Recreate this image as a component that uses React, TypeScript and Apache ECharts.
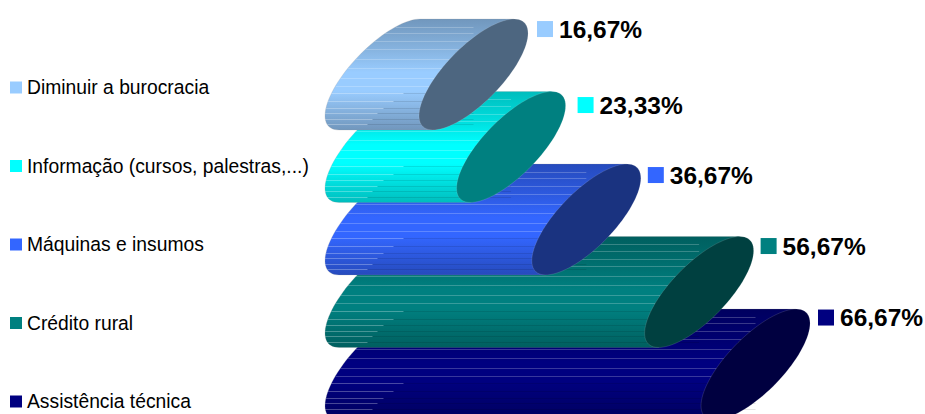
import React, { useEffect, useRef } from "react";
import * as echarts from "echarts";

// Bottom to top, so the upper cylinders are painted over the lower ones.
const categories = [
  "Assistência técnica",
  "Crédito rural",
  "Máquinas e insumos",
  "Informação (cursos, palestras,...)",
  "Diminuir a burocracia",
];
const percentages = [66.67, 56.67, 36.67, 23.33, 16.67];
const colors = ["#000080", "#008080", "#3366ff", "#00ffff", "#99ccff"];

// Per-cylinder placement of the value tag, relative to the end cap.
const tagGapX = [8, 7, 7, 12, 9];
const tagDropY = [8.5, 9.5, 11, 13.5, 10];

// Stripe positions as fractions of the cylinder height.
const fullStripes = [0.07, 0.13, 0.2, 0.27, 0.36, 0.44, 0.53, 0.6];
const tailStripes: [number, number][] = [
  [0.67, 24],
  [0.74, 14],
  [0.8, 4],
  [0.85, -2],
  [0.9, -7],
  [0.95, -12],
];

const TILT = (48 * Math.PI) / 180;
const HALF_WIDTH = 54.5;
const HEIGHT_RATIO = 0.765;

const shade = (hex: string, k: number) => {
  const n = parseInt(hex.slice(1), 16);
  const c = [(n >> 16) & 255, (n >> 8) & 255, n & 255].map((v) => Math.round(v * k));
  return `rgb(${c[0]},${c[1]},${c[2]})`;
};

// Leftmost point of the tilted end ellipse at a given height.
const leftEdgeAt = (cx: number, cy: number, b: number, y: number) => {
  const v = Math.max(-1, Math.min(1, (cy - y) / b));
  const s1 = Math.asin(v);
  const s2 = Math.PI - s1;
  return Math.min(
    cx + HALF_WIDTH * Math.cos(s1 - TILT),
    cx + HALF_WIDTH * Math.cos(s2 - TILT)
  );
};

const ellipsePoint = (cx: number, cy: number, b: number, t: number) => [
  cx + HALF_WIDTH * Math.cos(t),
  cy - b * Math.sin(t + TILT),
];

const makeRenderItem = (index: number) => (_params: any, api: any) => {
  const [xEnd, cy] = api.coord([api.value(0), api.value(1)]);
  const [xStart] = api.coord([0, api.value(1)]);
  const b = api.size([0, 1])[1] * HEIGHT_RATIO;
  const color = colors[index];
  const top = cy - b;
  const height = 2 * b;

  const outline: number[][] = [];
  const steps = 48;
  for (let i = 0; i <= steps; i++) {
    const t = Math.PI / 2 - TILT + (Math.PI * i) / steps;
    outline.push(ellipsePoint(xStart, cy, b, t));
  }
  const body = [
    ellipsePoint(xEnd, cy, b, Math.PI / 2 - TILT),
    ...outline,
    ellipsePoint(xEnd, cy, b, (3 * Math.PI) / 2 - TILT),
  ];

  const cap: number[][] = [];
  for (let i = 0; i < 96; i++) {
    cap.push(ellipsePoint(xEnd, cy, b, (2 * Math.PI * i) / 96));
  }

  const segment = (y: number, x1: number, x2: number, stroke: string) => ({
    type: "line",
    shape: { x1, y1: Math.round(y) + 0.5, x2, y2: Math.round(y) + 0.5 },
    style: { stroke, lineWidth: 1 },
  });

  const stripes: any[] = [];
  fullStripes.forEach((f) => {
    const y = top + f * height;
    stripes.push(
      segment(y, leftEdgeAt(xStart, cy, b, y), xEnd, "rgba(255,255,255,0.22)")
    );
  });
  tailStripes.forEach(([f, reach]) => {
    const y = top + f * height;
    const from = leftEdgeAt(xStart, cy, b, y);
    const mid = Math.max(from, xStart + reach);
    stripes.push(segment(y, from, mid, "rgba(255,255,255,0.28)"));
    stripes.push(segment(y, mid, xEnd, "rgba(0,0,0,0.1)"));
  });

  const right = xEnd + HALF_WIDTH;
  const tagX = right + tagGapX[index];
  const tagY = top + tagDropY[index];

  return {
    type: "group",
    children: [
      {
        type: "polygon",
        shape: { points: body },
        style: {
          fill: new echarts.graphic.LinearGradient(0, 0, 0, 1, [
            { offset: 0, color: shade(color, 0.74) },
            { offset: 0.28, color: shade(color, 0.88) },
            { offset: 0.48, color: color },
            { offset: 0.65, color: color },
            { offset: 1, color: shade(color, 0.74) },
          ]),
          stroke: "rgba(150,150,150,0.35)",
          lineWidth: 0.6,
        },
      },
      ...stripes,
      {
        type: "polygon",
        shape: { points: cap },
        style: {
          fill: shade(color, 0.5),
          stroke: "rgba(255,255,255,0.18)",
          lineWidth: 0.7,
        },
      },
      {
        type: "rect",
        shape: { x: tagX, y: tagY - 8, width: 16, height: 16 },
        style: { fill: color },
      },
      {
        type: "text",
        style: {
          x: tagX + 22,
          y: tagY,
          text: api.value(0).toFixed(2).replace(".", ",") + "%",
          fill: "#000",
          font: 'bold 24.5px "Liberation Sans", Arial, sans-serif',
          textAlign: "left",
          textVerticalAlign: "middle",
        },
      },
    ],
  };
};

export default function App() {
  const ref = useRef<HTMLDivElement>(null);

  useEffect(() => {
    const chart = echarts.init(ref.current!, undefined, { renderer: "svg" });
    chart.setOption({
      animation: false,
      backgroundColor: "#ffffff",
      grid: { left: 379.5, top: 38.25, width: 394.8, height: 362.5 },
      xAxis: { type: "value", min: 0, max: 70, show: false },
      yAxis: { type: "category", data: categories, show: false },
      legend: {
        orient: "vertical",
        left: 5,
        top: 73,
        height: 400,
        itemWidth: 12,
        itemHeight: 12,
        itemGap: 59.5,
        icon: "rect",
        data: [...categories].reverse(),
        selectedMode: false,
        textStyle: {
          color: "#000",
          fontSize: 19.3,
          fontFamily: '"Liberation Sans", Arial, sans-serif',
        },
      },
      series: categories.map((name, i) => ({
        type: "custom",
        name,
        clip: false,
        itemStyle: { color: colors[i] },
        encode: { x: 0, y: 1 },
        renderItem: makeRenderItem(i),
        data: [[percentages[i], i]],
      })),
    });
    return () => chart.dispose();
  }, []);

  return (
    <div
      ref={ref}
      style={{ position: "absolute", left: 0, top: 0, width: 925, height: 414 }}
    />
  );
}
